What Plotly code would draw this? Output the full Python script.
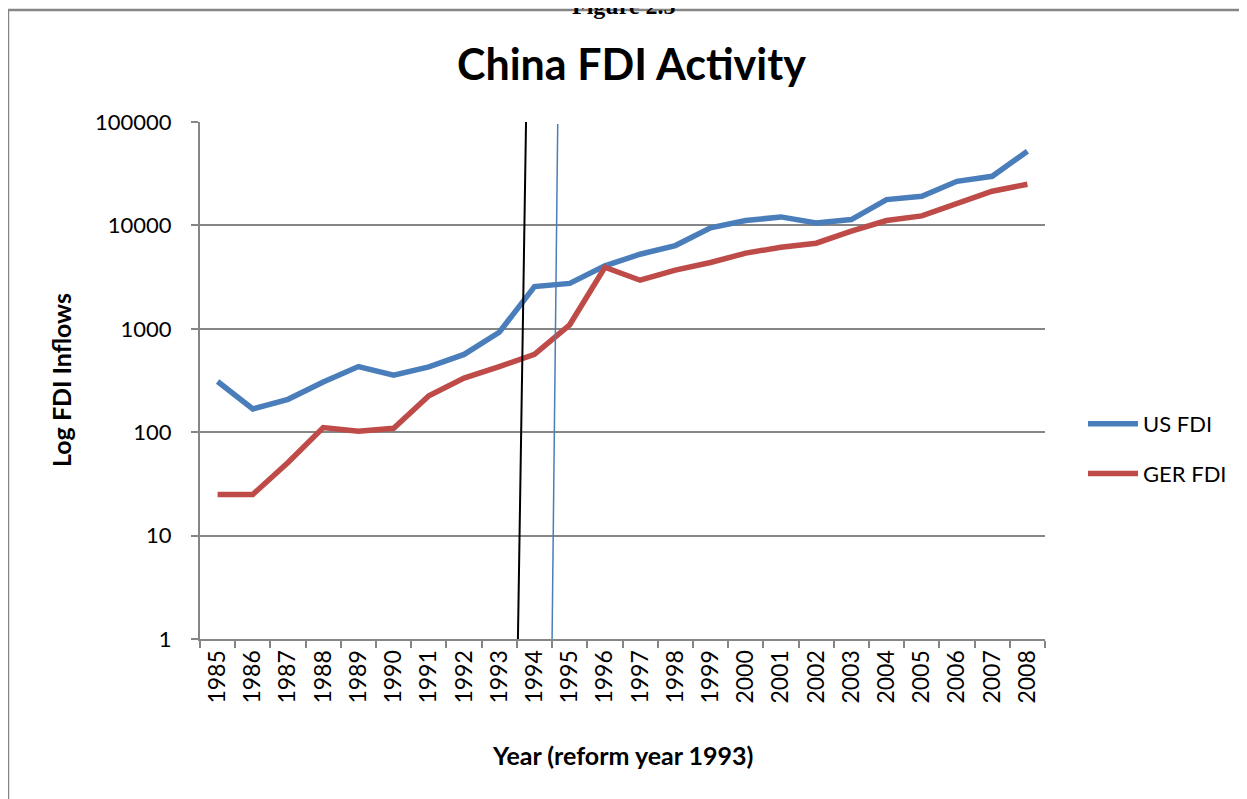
import plotly.graph_objects as go

# dados (escala log)
anos = list(range(1985, 2009))
us_fdi = [309, 168, 208, 306, 431, 356, 428, 565, 925, 2560, 2750, 4060,
          5260, 6380, 9460, 11140, 12080, 10570, 11380, 17780, 19150, 26700, 29850, 52100]
ger_fdi = [25, 25, 51, 111, 102, 109, 225, 334, 431, 565, 1093, 3935,
           2950, 3690, 4380, 5390, 6150, 6730, 8790, 11140, 12350, 16250, 21400, 25000]
y_ticks = [1, 10, 100, 1000, 10000, 100000]

# linhas verticais desenhadas à mão (reforma)
linha_preta_x = [1993.53, 1993.76]
linha_preta_y = [1, 100000]
linha_azul_x = [1994.50, 1994.66]
linha_azul_y = [1, 95500]

AZUL = "#4a7ebb"
VERM = "#be4b48"
CINZA = "#868686"
FONTE = "Lato"

# a página html tem margem de 8px no body: trabalha em coordenadas de tela e desconta
OFF = 8
W, H = 1247 - OFF, 799 - OFF
L, R, T, B = 200 - OFF, 1045 - OFF, 122 - OFF, 639 - OFF
pw, ph = R - L, B - T


def px(x):
    return (x - OFF - L) / pw


def py(y):
    return (B - (y - OFF)) / ph


fig = go.Figure()
fig.add_trace(go.Scatter(x=anos, y=us_fdi, name="US FDI", mode="lines", legendgroup="a",
                         line=dict(color=AZUL, width=5.5)))
fig.add_trace(go.Scatter(x=anos, y=ger_fdi, name="GER FDI", mode="lines", legendgroup="b",
                         line=dict(color=VERM, width=5.5)))
fig.add_trace(go.Scatter(x=linha_preta_x, y=linha_preta_y, mode="lines", showlegend=False,
                         line=dict(color="black", width=2), hoverinfo="skip"))
fig.add_trace(go.Scatter(x=linha_azul_x, y=linha_azul_y, mode="lines", showlegend=False,
                         line=dict(color=AZUL, width=1.5), hoverinfo="skip"))

fig.update_xaxes(range=[anos[0] - 0.5, anos[-1] + 0.5], tickvals=anos, ticktext=[str(a) for a in anos],
                 tickangle=-90, ticks="", showgrid=False, showline=True, linecolor=CINZA, linewidth=2,
                 tickfont=dict(family=FONTE, size=23, color="black"), zeroline=False,
                 minor=dict(ticks="outside", tick0=anos[0] - 0.5, dtick=1, ticklen=7,
                            tickcolor=CINZA, tickwidth=2, showgrid=False))
fig.update_yaxes(type="log", range=[0, 5], tickvals=y_ticks, ticktext=[str(v) for v in y_ticks],
                 ticks="outside", ticklen=7, tickcolor=CINZA, tickwidth=2, ticklabelstandoff=15,
                 showgrid=True, gridcolor=CINZA, gridwidth=2, showline=True, linecolor=CINZA,
                 linewidth=2, tickfont=dict(family=FONTE, size=22, color="black"), zeroline=False)

# moldura do gráfico do Excel
fig.add_shape(type="rect", xref="paper", yref="paper", x0=px(8), x1=px(1247 + 20), y0=py(799 + 20), y1=py(10),
              line=dict(color=CINZA, width=2.5), fillcolor="rgba(0,0,0,0)", layer="below")

# título da página, cortado no topo como no original
fig.add_annotation(text="<b>Figure 2.5</b>", xref="paper", yref="paper", x=px(624), y=py(21),
                   xanchor="center", yanchor="bottom", showarrow=False,
                   font=dict(family="Liberation Serif", size=24, color="black"))
fig.add_annotation(text="<b>China FDI Activity</b>", xref="paper", yref="paper", x=px(631), y=py(63),
                   xanchor="center", yanchor="middle", showarrow=False,
                   font=dict(family=FONTE, size=43, color="black"))
fig.add_annotation(text="<b>Year (reform year 1993)</b>", xref="paper", yref="paper", x=px(622), y=py(755),
                   xanchor="center", yanchor="middle", showarrow=False,
                   font=dict(family=FONTE, size=25, color="black"))
fig.add_annotation(text="<b>Log FDI Inflows</b>", xref="paper", yref="paper", x=px(61), y=py(380),
                   xanchor="center", yanchor="middle", showarrow=False, textangle=-90,
                   font=dict(family=FONTE, size=25, color="black"))

fig.update_layout(
    width=W, height=H, margin=dict(l=L, r=W - R, t=T, b=H - B, autoexpand=False),
    paper_bgcolor="white", plot_bgcolor="white", showlegend=True,
    legend=dict(x=px(1083), y=py(449), xanchor="left", yanchor="middle", tracegroupgap=18,
                font=dict(family=FONTE, size=22, color="black"), itemwidth=50, bgcolor="rgba(0,0,0,0)"),
)

fig.write_html("out.html")
